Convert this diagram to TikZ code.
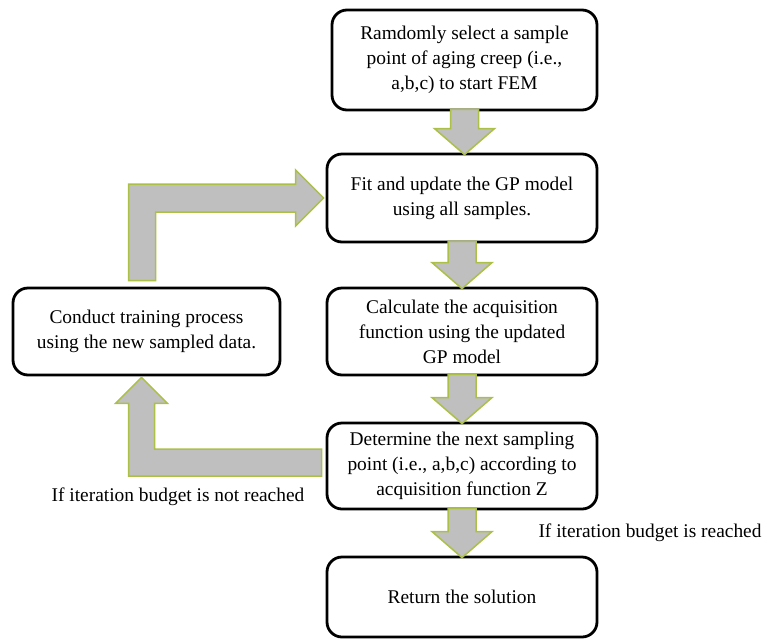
\documentclass[tikz,border=0pt]{standalone}
\usepackage{fontspec}
\setmainfont{Liberation Serif}
\usetikzlibrary{calc}

\definecolor{arrowfill}{RGB}{191,191,191}
\definecolor{arrowline}{RGB}{172,192,72}

% block arrow pointing down from one box to the next
\newcommand{\downblock}[2]{%
  \draw[blockarrow] let \p1=(#1.south), \p2=(#2.north) in
    (\x1-14pt,\y1+2pt) -- (\x1+14pt,\y1+2pt) -- (\x1+14pt,\y2+24pt) -- (\x1+30pt,\y2+24pt)
    -- (\x1,\y2-2pt) -- (\x1-30pt,\y2+24pt) -- (\x1-14pt,\y2+24pt) -- cycle;}

\begin{document}
\begin{tikzpicture}[x=1pt,y=-1pt]
  \tikzset{box/.style={draw,fill=white,line width=2.8pt,rounded corners=15pt,minimum width=270pt,minimum height=86pt,align=center,font=\fontsize{19.4}{25}\selectfont}}
  \tikzset{blockarrow/.style={draw=arrowline,fill=arrowfill,line width=1.5pt,line join=miter}}
  \tikzset{note/.style={font=\fontsize{19.4}{25}\selectfont}}
  \useasboundingbox (0,0) rectangle (764,641);

  \node[box,minimum width=265pt,minimum height=100pt] (start) at (464.5,60) {Ramdomly select a sample\\point of aging creep (i.e.,\\a,b,c) to start FEM};
  \node[box,minimum height=88pt] (fit) at (462,198) {Fit and update the GP model\\using all samples.};
  \node[box,minimum height=87pt] (acq) at (462,331.5) {Calculate the acquisition\\function using the updated\\GP model};
  \node[box] (next) at (462,466) {Determine the next sampling\\point (i.e., a,b,c) according to\\acquisition function Z};
  \node[box,minimum height=80pt] (ret) at (462,597) {Return the solution};
  \node[box,minimum width=267pt,minimum height=87pt] (train) at (146.5,331.5) {Conduct training process\\using the new sampled data.};

  \downblock{start}{fit}
  \downblock{fit}{acq}
  \downblock{acq}{next}
  \downblock{next}{ret}

  % loop back: training -> GP model
  \draw[blockarrow] let \p1=(train.north), \p2=(fit.west) in
    (\x1-18pt,\y1+6pt) -- (\x1-18pt,\y2+14pt) -- (\x2-30pt,\y2+14pt) -- (\x2-30pt,\y2+28pt)
    -- (\x2-2pt,\y2) -- (\x2-30pt,\y2-28pt) -- (\x2-30pt,\y2-14pt) -- (\x1+9pt,\y2-14pt)
    -- (\x1+9pt,\y1+6pt) -- cycle;
  % next sample -> training
  \draw[blockarrow] let \p1=(next.west), \p2=(train.south) in
    (\x1-4pt,\y1+17pt) -- (\x2+8pt,\y1+17pt) -- (\x2+8pt,\y2-27pt) -- (\x2+21pt,\y2-27pt)
    -- (\x2-5pt,\y2-1pt) -- (\x2-31pt,\y2-27pt) -- (\x2-18pt,\y2-27pt) -- (\x2-18pt,\y1-10pt)
    -- (\x1-4pt,\y1-10pt) -- cycle;

  \node[note] (notreached) at (178,497) {If iteration budget is not reached};
  \node[note] (reached) at (650,533) {If iteration budget is reached};
\end{tikzpicture}
\end{document}
